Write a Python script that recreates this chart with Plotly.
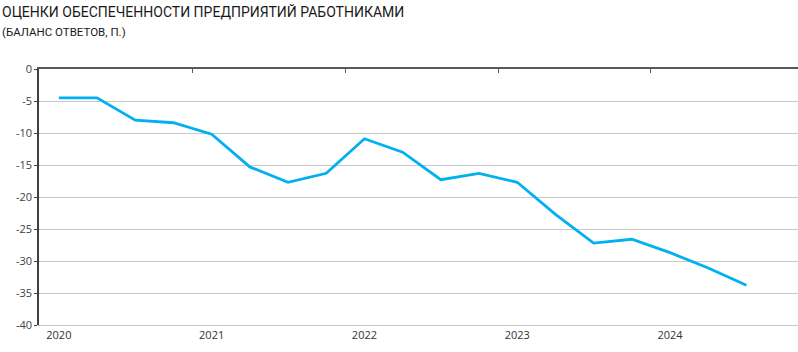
import plotly.graph_objects as go

quarters = [f"{y} Q{q}" for y in range(2020, 2025) for q in range(1, 5)]
quarters = quarters[:19]
balance = [-4.5, -4.5, -8.0, -8.4, -10.2, -15.3, -17.7, -16.3, -10.9, -13.0,
           -17.3, -16.3, -17.7, -22.7, -27.2, -26.6, -28.7, -31.1, -33.8]
year_labels = ["2020", "2021", "2022", "2023", "2024"]
y_ticks = [0, -5, -10, -15, -20, -25, -30, -35, -40]

fig = go.Figure()
fig.add_trace(go.Scatter(
    x=list(range(len(balance))), y=balance, mode="lines",
    line=dict(color="#00B0F0", width=2.8), hoverinfo="skip", showlegend=False,
))
# empty trace so the top (year-boundary) axis is drawn
fig.add_trace(go.Scatter(x=[0], y=[None], xaxis="x2", yaxis="y",
                         mode="lines", showlegend=False, hoverinfo="skip"))

fig.update_layout(
    width=798, height=352,
    margin=dict(l=39, r=0, t=69, b=27),
    paper_bgcolor="white", plot_bgcolor="white",
    font=dict(family="Open Sans, sans-serif", size=11, color="#333333"),
    xaxis=dict(
        range=[-0.52, 19.35], showgrid=False, zeroline=False,
        showline=True, linecolor="#C8C8C8", linewidth=1,
        tickvals=[i * 4 for i in range(len(year_labels))], ticktext=year_labels,
        ticks="", tickfont=dict(size=11, color="#333333"),
    ),
    xaxis2=dict(
        overlaying="x", side="top", anchor="y", range=[-0.52, 19.35],
        showgrid=False, zeroline=False, showline=True, linecolor="#595959", linewidth=1.5,
        tickvals=[3.5, 7.5, 11.5, 15.5], ticks="inside", ticklen=4, tickcolor="#595959",
        tickwidth=1, showticklabels=False,
    ),
    yaxis=dict(
        range=[-40, 0], tickvals=y_ticks, ticktext=[str(v) for v in y_ticks],
        showgrid=True, gridcolor="#C8C8C8", gridwidth=1, zeroline=False,
        showline=True, linecolor="#404040", linewidth=1.5,
        ticks="outside", ticklen=3, tickcolor="#404040",
        tickfont=dict(size=11, color="#404040"),
    ),
    annotations=[
        dict(text="ОЦЕНКИ ОБЕСПЕЧЕННОСТИ ПРЕДПРИЯТИЙ РАБОТНИКАМИ",
             xref="paper", yref="paper", x=-39/759, y=1 + 67/256, xanchor="left", yanchor="top",
             showarrow=False,
             font=dict(family="Roboto, sans-serif", size=14, color="#1a1a1a")),
        dict(text="(БАЛАНС ОТВЕТОВ, П.)",
             xref="paper", yref="paper", x=-39/759, y=1 + 46/256, xanchor="left", yanchor="top",
             showarrow=False,
             font=dict(family="Roboto, sans-serif", size=11.5, color="#1a1a1a")),
    ],
)

fig.write_html("out.html")
